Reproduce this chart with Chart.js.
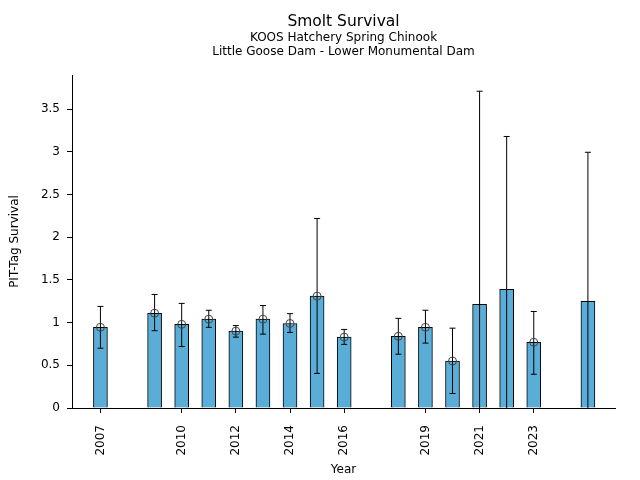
<!DOCTYPE html>
<html>
<head>
<meta charset="utf-8">
<script src="https://cdn.jsdelivr.net/npm/chart.js@4"></script>
<style>
  html, body { margin: 0; padding: 0; background: #fff; }
  #wrap { width: 640px; height: 480px; }
</style>
</head>
<body>
<div id="wrap"><canvas id="chart" width="640" height="480"></canvas></div>
<script>
// survival by migration year
const years    = [2007, 2009, 2010, 2011, 2012, 2013, 2014, 2015, 2016, 2018, 2019, 2020, 2021, 2022, 2023, 2025];
const survival = [0.945, 1.11, 0.98, 1.04, 0.90, 1.04, 0.99, 1.31, 0.83, 0.84, 0.945, 0.55, 1.215, 1.39, 0.77, 1.25];
const errHigh  = [1.19, 1.33, 1.225, 1.145, 0.965, 1.20, 1.105, 2.22, 0.92, 1.05, 1.145, 0.935, 3.71, 3.18, 1.13, 2.995];
const errLow   = [0.70, 0.905, 0.72, 0.945, 0.83, 0.865, 0.885, 0.405, 0.745, 0.63, 0.76, 0.17, -0.2, -0.2, 0.395, -0.2];
const hasMarker = [true, true, true, true, true, true, true, true, true, true, true, true, false, false, true, false];
const xTickYears = [2007, 2010, 2012, 2014, 2016, 2019, 2021, 2023];
const yTicks = [0, 0.5, 1, 1.5, 2, 2.5, 3, 3.5];

const FONT = "'DejaVu Sans', sans-serif";

const errorBars = {
  id: 'errorBars',
  afterDatasetsDraw(chart) {
    const { ctx, chartArea, scales: { x, y } } = chart;
    ctx.save();
    ctx.beginPath();
    ctx.rect(chartArea.left, chartArea.top, chartArea.right - chartArea.left, chartArea.bottom - chartArea.top);
    ctx.clip();
    ctx.strokeStyle = '#000';
    ctx.lineWidth = 1;
    years.forEach((yr, i) => {
      const px = x.getPixelForValue(yr);
      const hi = y.getPixelForValue(errHigh[i]);
      const lo = y.getPixelForValue(errLow[i]);
      ctx.beginPath();
      ctx.moveTo(px, hi); ctx.lineTo(px, lo);
      ctx.moveTo(px - 3, hi); ctx.lineTo(px + 3, hi);
      ctx.moveTo(px - 3, lo); ctx.lineTo(px + 3, lo);
      ctx.stroke();
      if (hasMarker[i]) {
        ctx.beginPath();
        ctx.strokeStyle = '#444';
        ctx.arc(px, y.getPixelForValue(survival[i]), 4, 0, Math.PI * 2);
        ctx.stroke();
        ctx.strokeStyle = '#000';
      }
    });
    ctx.restore();
  }
};

const titles = {
  id: 'titles',
  afterDraw(chart) {
    const { ctx, chartArea } = chart;
    const cx = (chartArea.left + chartArea.right) / 2;
    ctx.save();
    ctx.fillStyle = '#000';
    ctx.textAlign = 'center';
    ctx.textBaseline = 'middle';
    ctx.font = '15.5px ' + FONT;
    ctx.fillText('Smolt Survival', cx, 22);
    ctx.font = '12px ' + FONT;
    ctx.fillText('KOOS Hatchery Spring Chinook', cx, 38);
    ctx.fillText('Little Goose Dam - Lower Monumental Dam', cx, 52);
    ctx.fillText('Year', cx, 470);
    ctx.translate(15, (chartArea.top + chartArea.bottom) / 2);
    ctx.rotate(-Math.PI / 2);
    ctx.fillText('PIT-Tag Survival', 0, 0);
    ctx.restore();
  }
};

new Chart(document.getElementById('chart'), {
  type: 'bar',
  data: {
    datasets: [{
      data: years.map((yr, i) => ({ x: yr, y: survival[i] })),
      backgroundColor: '#5aadd6',
      borderColor: '#000',
      borderWidth: 1,
      barThickness: 14
    }]
  },
  options: {
    responsive: false,
    animation: false,
    layout: { padding: { left: 0, top: 75, right: 25, bottom: 0 } },
    plugins: { legend: { display: false }, tooltip: { enabled: false } },
    scales: {
      x: {
        type: 'linear',
        offset: false,
        min: 2005.95,
        max: 2026,
        afterBuildTicks: s => { s.ticks = xTickYears.map(v => ({ value: v })); },
        afterFit: s => { s.height = 72; },
        grid: { offset: false, drawOnChartArea: false, drawTicks: true, tickLength: 5, color: '#000' },
        border: { display: true, color: '#000', width: 1 },
        ticks: { minRotation: 90, maxRotation: 90, color: '#000', font: { family: FONT, size: 12 }, padding: 12, callback: v => String(v) }
      },
      y: {
        min: 0,
        max: 3.9,
        afterBuildTicks: s => { s.ticks = yTicks.map(v => ({ value: v })); },
        afterFit: s => { s.width = 72; },
        grid: { drawOnChartArea: false, drawTicks: true, tickLength: 5, color: '#000' },
        border: { display: true, color: '#000', width: 1 },
        ticks: { color: '#000', font: { family: FONT, size: 12 }, padding: 7, callback: v => String(v) }
      }
    }
  },
  plugins: [errorBars, titles]
});
</script>
</body>
</html>
